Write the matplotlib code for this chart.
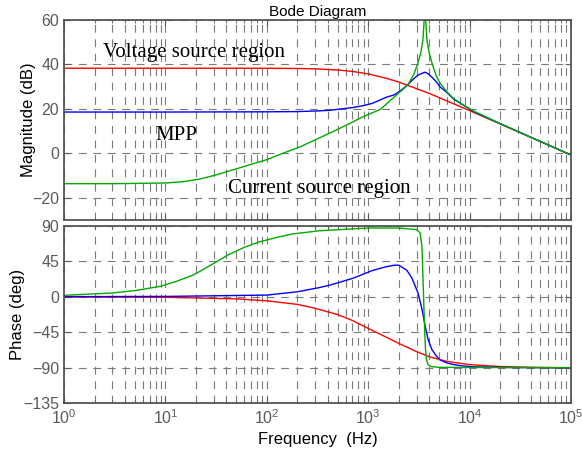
import matplotlib
matplotlib.use('Agg')
import matplotlib.pyplot as plt
from matplotlib.ticker import LogLocator, NullFormatter

# red: voltage source region
f_red = [1, 10, 50, 100, 200, 300, 500, 700, 1000, 1500, 2000, 3000, 4000, 6000,
         10000, 20000, 40000, 100000]
mag_red = [38.3, 38.3, 38.3, 38.27, 38.17, 38.0, 37.5, 36.85, 35.76, 33.8, 32.1,
           29.1, 27.0, 23.55, 19.25, 13.3, 7.3, -0.7]
ph_red = [0, -0.5, -2.5, -5, -9.5, -14.5, -22.5, -30, -40, -51, -59, -69.5, -76,
          -82, -86, -88.5, -89.5, -90]

# blue: MPP
f_blue = [1, 10, 100, 200, 320, 420, 520, 700, 900, 1100, 1500, 1800, 2000, 2400,
          2700, 3100, 3400, 3650, 3900, 4250, 4700, 5100, 6000, 7000, 8300, 11000,
          20000, 40000, 100000]
mag_blue = [18.6, 18.6, 18.7, 18.8, 19.1, 19.4, 19.9, 20.6, 21.5, 22.5, 25.2, 26.3,
            27.6, 30.4, 32.8, 35.2, 36.0, 36.5, 35.8, 34.3, 32.2, 30.0, 27.3, 24.3,
            22.3, 18.8, 13.4, 7.3, -0.7]
ph_blue = [0.3, 0.6, 2.3, 6.5, 11.5, 15, 18.5, 23.5, 29, 33.5, 38.3, 40.2, 40.3, 34,
           24, 5, -16, -37, -54, -66.8, -75, -80, -84, -86, -87.5, -88.8, -89.5,
           -89.8, -90]

# green: current source region
f_green = [1, 3.16, 10, 15, 22, 32, 47, 68, 100, 147, 214, 447, 661, 891, 1318,
           1905, 2455, 2818, 3090, 3311, 3467, 3548, 3631, 3715, 3802, 3981, 4266,
           4677, 5129, 6026, 6918, 8318, 11220, 20000, 40000, 100000]
mag_green = [-13.6, -13.6, -13.3, -12.7, -11.5, -9.6, -7.3, -5.1, -2.8, 0.2, 3.0,
             9.75, 13.5, 16.5, 19.8, 26.25, 30.75, 35.5, 40.5, 45.5, 51, 58, 68, 58,
             51, 45.5, 40.5, 35, 31.5, 27.5, 24.75, 22.3, 18.8, 13.4, 7.3, -0.7]
f_green_ph = [1, 3, 5, 9, 13, 19, 30, 41, 60, 85, 130, 180, 330, 1000, 2000, 3000,
              3240, 3390, 3430, 3510, 3590, 3670, 3760, 3890, 4170, 5000, 100000]
ph_green = [2, 5, 8, 13.5, 20, 28, 42.5, 53, 63, 70, 76, 80, 84, 87.5, 87.5, 85.5,
            81.5, 65, 45, 5, -35, -65, -80, -86, -88.5, -89.5, -90]

plt.rcParams['font.family'] = ['Liberation Sans', 'DejaVu Sans']
plt.rcParams['mathtext.default'] = 'regular'

fig = plt.figure(figsize=(5.82, 4.53), dpi=100)
ax1 = fig.add_axes([0.110, 0.514, 0.871, 0.442])
ax2 = fig.add_axes([0.110, 0.110, 0.871, 0.391], sharex=ax1)

grey = '#5a5a5a'
for ax in (ax1, ax2):
    ax.set_xscale('log')
    ax.set_xlim(1, 1e5)
    ax.xaxis.set_major_locator(LogLocator(base=10, numticks=10))
    ax.xaxis.set_minor_locator(LogLocator(base=10, subs=range(2, 10), numticks=20))
    ax.xaxis.set_minor_formatter(NullFormatter())
    ax.grid(True, which='major', color='#7a7a7a', lw=0.8, linestyle=(0, (7, 6)))
    ax.grid(True, which='minor', axis='x', color='#7a7a7a', lw=0.8, linestyle=(0, (7, 6)))
    ax.tick_params(which='both', direction='in', top=True, right=True, colors=grey,
                   labelsize=11.5)
    ax.tick_params(which='major', length=4)
    ax.tick_params(which='minor', length=2)
    for s in ax.spines.values():
        s.set_color('#555555')
        s.set_linewidth(1.3)

ax1.plot(f_red, mag_red, color='#ff0000', lw=1)
ax1.plot(f_blue, mag_blue, color='#0000ff', lw=1)
ax1.plot(f_green, mag_green, color='#00a800', lw=1)
ax1.set_ylim(-30, 60)
ax1.set_yticks([-20, 0, 20, 40, 60])
ax1.tick_params(labelbottom=False)
ax1.set_ylabel('Magnitude (dB)', fontsize=12, labelpad=-3)
ax1.set_title('Bode Diagram', fontsize=11, pad=3)

ax1.text(2.43, 43.3, 'Voltage source region', family='Liberation Serif', fontsize=15)
ax1.text(7.9, 6, 'MPP', family='Liberation Serif', fontsize=15)
ax1.text(41.5, -18, 'Current source region', family='Liberation Serif', fontsize=15)

ax2.plot(f_red, ph_red, color='#ff0000', lw=1)
ax2.plot(f_blue, ph_blue, color='#0000ff', lw=1)
ax2.plot(f_green_ph, ph_green, color='#00a800', lw=1)
ax2.set_ylim(-135, 90)
ax2.set_yticks([-135, -90, -45, 0, 45, 90])
ax2.set_ylabel('Phase (deg)', fontsize=12, labelpad=-1)
ax2.set_xlabel('Frequency  (Hz)', fontsize=12)

fig.savefig('out.png', dpi=100)
